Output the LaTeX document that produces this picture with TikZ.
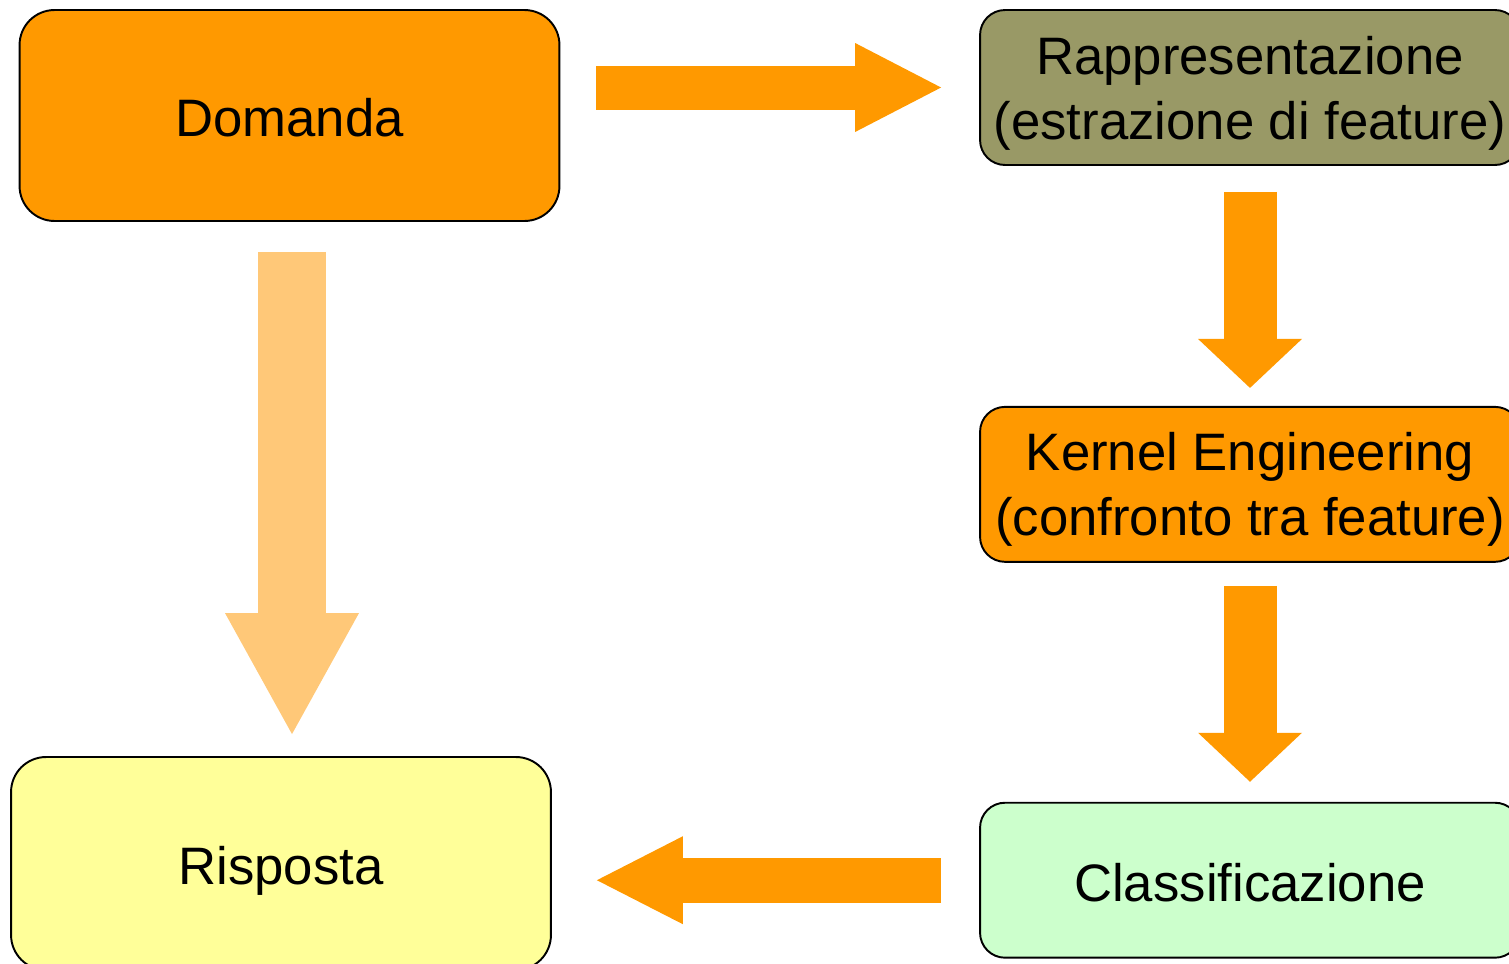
\documentclass[tikz,border=0pt]{standalone}
\usepackage{fontspec}
\setmainfont{Liberation Sans}
\usetikzlibrary{positioning,arrows.meta}
\definecolor{boxorange}{HTML}{FF9900}
\definecolor{boxolive}{HTML}{999966}
\definecolor{boxyellow}{HTML}{FFFF99}
\definecolor{boxgreen}{HTML}{CCFFCC}
\definecolor{paleorange}{HTML}{FFC878}

\begin{document}
\begin{tikzpicture}[
    x=0.02cm,y=-0.02cm,
    node distance=4.8cm,
    every node/.style={font=\fontsize{30}{37}\selectfont},
    stepbox/.style={draw,line width=1.1pt,rounded corners=0.5cm,minimum width=10.8cm,minimum height=3.1cm,align=center,inner sep=0pt,text depth=0pt},
    oneline/.style={text height=1.04cm,text depth=0.2cm},
    bigbox/.style={stepbox,oneline,rounded corners=0.7cm,minimum height=4.22cm},
    flow/.style n args={4}{line width=#1,draw=#4,-{Triangle[length=#2,width=#3,line width=0pt,fill=#4]}}
]
\useasboundingbox (0,0) rectangle (1509,964);
\clip (0,0) rectangle (1509,964);

\node[bigbox,fill=boxorange] (Domanda) at (289.5,115.5) {Domanda};
\node[stepbox,fill=boxolive] (Rapp) at (1250,87.5) {Rappresentazione\\(estrazione di feature)};
\node[stepbox,fill=boxorange,below=of Rapp] (Kernel) {Kernel Engineering\\(confronto tra feature)};
\node[stepbox,oneline,fill=boxgreen,below=4.78cm of Kernel] (Class) {Classificazione};
\node[bigbox,fill=boxyellow,minimum height=4.26cm] (Risposta) at (281,863.5) {Risposta};

% block arrows
\draw[flow={0.88cm}{1.72cm}{1.78cm}{boxorange}] ([xshift=0.72cm]Domanda.east |- Rapp.west) -- ([xshift=-0.76cm]Rapp.west);
\draw[flow={1.06cm}{0.98cm}{2.08cm}{boxorange}] ([yshift=-0.52cm]Rapp.south) -- ([yshift=0.36cm]Kernel.north);
\draw[flow={1.06cm}{0.98cm}{2.08cm}{boxorange}] ([yshift=-0.46cm]Kernel.south) -- ([yshift=0.4cm]Class.north);
\draw[flow={0.9cm}{1.72cm}{1.76cm}{boxorange}] ([xshift=-0.76cm]Class.west) -- ([xshift=0.9cm]Class.west -| Risposta.east);
\draw[flow={1.36cm}{2.42cm}{2.68cm}{paleorange}] ([xshift=0.05cm,yshift=-0.6cm]Domanda.south) -- ([xshift=0.05cm,yshift=0.44cm]Domanda.south |- Risposta.north);
\end{tikzpicture}
\end{document}
